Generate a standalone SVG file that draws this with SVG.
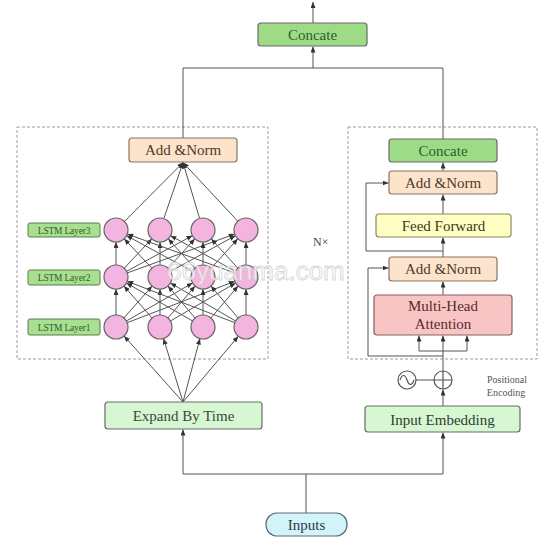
<svg xmlns="http://www.w3.org/2000/svg" width="550" height="545" viewBox="0 0 550 545">
<defs>
<marker id="ar" markerWidth="6" markerHeight="5" refX="6" refY="2.5" orient="auto" markerUnits="userSpaceOnUse"><path d="M0,0 L6,2.5 L0,5 z" fill="#333"/></marker>
<style>
.c{stroke:#555;stroke-width:1;fill:none}
.a{marker-end:url(#ar)}
.dash{fill:none;stroke:#9a9aa6;stroke-width:1;stroke-dasharray:3,2}
.box{stroke:#6a6a6a;stroke-width:1.2}
.t{font-family:"Liberation Serif","Times New Roman",serif;font-size:15px;text-anchor:middle}
.s{font-family:"Liberation Serif","Times New Roman",serif;font-size:9.5px;text-anchor:middle;fill:#2e5e2e;letter-spacing:-0.2px}
.g{fill:#9edb86}
.an{fill:#fde3cc;stroke:#8a7565;stroke-width:1.2}
.node{fill:#f3b5df;stroke:#666;stroke-width:1.2}
.lab{fill:#a9e08f;stroke:#5a7a50;stroke-width:1}
</style>
</defs>
<rect width="550" height="545" fill="#fff"/>
<rect class="dash" x="17" y="127" width="251" height="232"/>
<rect class="dash" x="348" y="127" width="189" height="232"/>
<g id="connectors">
<path class="c a" d="M313,23 V2"/>
<path class="c a" d="M313,68 V46.5"/>
<path class="c" d="M183,138 V68 H443 V139"/>
<path class="c a" d="M443,171 V162.5"/>
<path class="c a" d="M443,214 V194.5"/>
<path class="c a" d="M443,257 V237.5"/>
<path class="c a" d="M443,295 V281.5"/>
<path class="c a" d="M443,251 H366 V183 H388.5"/>
<path class="c a" d="M443,356 H368 V268 H388.5"/>
<path class="c" d="M443,371 V351 M419,351 H467"/>
<path class="c a" d="M419,351 V335.5"/>
<path class="c a" d="M443,351 V335.5"/>
<path class="c a" d="M467,351 V335.5"/>
<path class="c a" d="M443,406 V389.5"/>
<path class="c" d="M416,380 H434"/>
<path class="c" d="M306,513 V474 M183,474 H443"/>
<path class="c a" d="M183,474 V429.5"/>
<path class="c a" d="M443,474 V432.5"/>
<path class="c a" d="M183,402 L124,335.9"/>
<path class="c a" d="M183,402 L163.5,338.5"/>
<path class="c a" d="M183,402 L199.9,338.6"/>
<path class="c a" d="M183,402 L238.3,336.2"/>
<path class="c a" d="M116,315 L116,289"/>
<path class="c a" d="M123.9,318 L152.1,286"/>
<path class="c a" d="M126.4,321 L192.6,283"/>
<path class="c a" d="M127.2,322.7 L234.8,281.3"/>
<path class="c a" d="M152.1,318 L123.9,286"/>
<path class="c a" d="M160,315 L160,289"/>
<path class="c a" d="M167.9,318 L195.1,286"/>
<path class="c a" d="M170.4,321 L235.6,283"/>
<path class="c a" d="M192.6,321 L126.4,283"/>
<path class="c a" d="M195.1,318 L167.9,286"/>
<path class="c a" d="M203,315 L203,289"/>
<path class="c a" d="M210.9,318 L238.1,286"/>
<path class="c a" d="M234.8,322.7 L127.2,281.3"/>
<path class="c a" d="M235.6,321 L170.4,283"/>
<path class="c a" d="M238.1,318 L210.9,286"/>
<path class="c a" d="M246,315 L246,289"/>
<path class="c a" d="M116,265 L116,242"/>
<path class="c a" d="M124.2,268.2 L151.8,238.8"/>
<path class="c a" d="M126.6,271.3 L192.4,235.7"/>
<path class="c a" d="M127.3,272.9 L234.7,234.1"/>
<path class="c a" d="M151.8,268.2 L124.2,238.8"/>
<path class="c a" d="M160,265 L160,242"/>
<path class="c a" d="M168.2,268.2 L194.8,238.8"/>
<path class="c a" d="M170.6,271.3 L235.4,235.7"/>
<path class="c a" d="M192.4,271.3 L126.6,235.7"/>
<path class="c a" d="M194.8,268.2 L168.2,238.8"/>
<path class="c a" d="M203,265 L203,242"/>
<path class="c a" d="M211.2,268.2 L237.8,238.8"/>
<path class="c a" d="M234.7,272.9 L127.3,234.1"/>
<path class="c a" d="M235.4,271.3 L170.6,235.7"/>
<path class="c a" d="M237.8,268.2 L211.2,238.8"/>
<path class="c a" d="M246,265 L246,242"/>
<path class="c a" d="M124.4,221.5 L183,162.5"/>
<path class="c a" d="M163.8,218.6 L183,162.5"/>
<path class="c a" d="M199.6,218.5 L183,162.5"/>
<path class="c a" d="M237.8,221.2 L183,162.5"/>
</g>
<g id="concate-top"><rect class="box g" x="258" y="23" width="109" height="23" rx="3"/><text class="t" x="312.5" y="40" fill="#2e5e2e">Concate</text></g>
<g id="addnorm-left"><rect class="an" x="129" y="138" width="108" height="24" rx="3"/><text class="t" x="183" y="155" fill="#4a3a2a">Add &amp;Norm</text></g>
<g id="lstm3"><rect class="lab" x="28" y="223" width="72" height="14" rx="2"/><text class="s" x="64" y="233.5">LSTM Layer3</text></g>
<g id="lstm2"><rect class="lab" x="28" y="270" width="72" height="15" rx="2"/><text class="s" x="64" y="281">LSTM Layer2</text></g>
<g id="lstm1"><rect class="lab" x="28" y="319" width="72" height="16" rx="2"/><text class="s" x="64" y="330.5">LSTM Layer1</text></g>
<g id="nodes">
<circle class="node" cx="116" cy="230" r="12"/><circle class="node" cx="160" cy="230" r="12"/><circle class="node" cx="203" cy="230" r="12"/><circle class="node" cx="246" cy="230" r="12"/>
<circle class="node" cx="116" cy="277" r="12"/><circle class="node" cx="160" cy="277" r="12"/><circle class="node" cx="203" cy="277" r="12"/><circle class="node" cx="246" cy="277" r="12"/>
<circle class="node" cx="116" cy="327" r="12"/><circle class="node" cx="160" cy="327" r="12"/><circle class="node" cx="203" cy="327" r="12"/><circle class="node" cx="246" cy="327" r="12"/>
</g>
<g id="expand"><rect class="box" fill="#d6f7d2" x="105" y="402" width="157" height="27" rx="3"/><text class="t" x="183.5" y="421" fill="#3a4a3a">Expand By Time</text></g>
<g id="concate-right"><rect class="box g" x="389" y="139" width="108" height="23" rx="3"/><text class="t" x="443" y="156" fill="#2e5e2e">Concate</text></g>
<g id="addnorm-up"><rect class="an" x="389" y="171" width="108" height="23" rx="3"/><text class="t" x="443" y="188" fill="#4a3a2a">Add &amp;Norm</text></g>
<g id="ff"><rect fill="#ffffc4" stroke="#8a8a60" stroke-width="1.2" x="376" y="214" width="135" height="23" rx="3"/><text class="t" x="443.5" y="231" fill="#3a3a20">Feed Forward</text></g>
<g id="addnorm-low"><rect class="an" x="389" y="257" width="108" height="24" rx="3"/><text class="t" x="443" y="274" fill="#4a3a2a">Add &amp;Norm</text></g>
<g id="mha"><rect fill="#f8c4c4" stroke="#8a6060" stroke-width="1.2" x="374" y="295" width="138" height="40" rx="3"/><text class="t" x="443" y="311" fill="#5a2a2a">Multi-Head</text><text class="t" x="443" y="329" fill="#5a2a2a">Attention</text></g>
<g id="nx"><text x="313" y="246" font-family="Liberation Serif, serif" font-size="12" fill="#444">N×</text></g>
<g id="posenc">
<circle cx="407" cy="380" r="9" fill="#fff" stroke="#555" stroke-width="1.2"/>
<path d="M400,380 C402,374 405,374 407,380 C409,386 412,386 414,380" fill="none" stroke="#555" stroke-width="1.2"/>
<circle cx="443" cy="380" r="9" fill="#fff" stroke="#555" stroke-width="1.2"/>
<path d="M434,380 H452 M443,371 V389" stroke="#555" stroke-width="1.2"/>
<text x="507" y="383" font-family="Liberation Serif, serif" font-size="10" text-anchor="middle" fill="#555">Positional</text>
<text x="506" y="396" font-family="Liberation Serif, serif" font-size="10" text-anchor="middle" fill="#555">Encoding</text>
</g>
<g id="embed"><rect class="box" fill="#d6f7d2" x="365" y="406" width="155" height="26" rx="3"/><text class="t" x="442.5" y="424.5" fill="#2e3e2e">Input Embedding</text></g>
<g id="inputs"><rect fill="#d2f4f8" stroke="#5a6a7a" stroke-width="1.2" x="266" y="513" width="81" height="23" rx="11"/><text class="t" x="306.5" y="530" fill="#2a3a4a">Inputs</text></g>
<text x="167" y="280" font-family="Liberation Sans, Arial, sans-serif" font-size="26" fill="#fff" fill-opacity="0.75" stroke="#c8c8c8" stroke-width="0.8" stroke-opacity="0.8">66yuanma.com</text>
</svg>
